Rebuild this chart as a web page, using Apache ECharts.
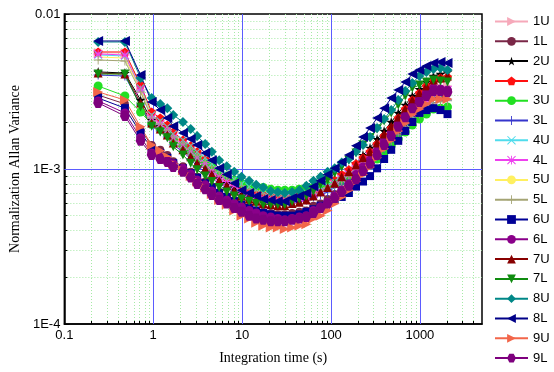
<!DOCTYPE html>
<html>
<head>
<meta charset="utf-8">
<script src="https://cdn.jsdelivr.net/npm/echarts@6/dist/echarts.min.js"></script>
<style>
html,body{margin:0;padding:0;background:#fff;}
#chart{width:554px;height:372px;}
</style>
</head>
<body>
<div id="chart"></div>
<script>
// Integration time (s)
const tau = [0.24,0.48,0.72,0.96,1.2,1.44,1.68,2.16,2.64,3.12,3.84,4.56,5.52,6.72,8.16,9.84,12,14.4,17.3,21,25.2,30.2,36.5,44,52.8,63.4,76.3,91.7,110,132,159,191,229,275,330,396,476,571,685,822,987,1184,1421,1705,2046];

// Normalized Allan variance, in units of 1e-5
const UNIT = 1e-5;
const v1U = [561,561,338,223,204,184,163,147,133,121,111,100,92,85,79,73,70,67,65,64,63,63,64,65,66,69,73,77,83,88,94,103,112,123,139,154,173,192,216,240,267,296,323,338,343];
const v1L = [300,263,178,143,133,123,112,104,96,89,83,77,71,67,63,59,57,54,53,52,51,51,52,53,54,58,60,64,69,74,81,90,99,109,123,137,154,173,192,216,240,267,292,300,309];
const v2U = [423,416,279,207,189,173,154,139,125,114,104,96,88,81,76,70,67,65,62,61,60,60,62,63,65,69,73,78,84,92,99,109,123,137,156,176,201,230,259,296,328,364,398,410,423];
const v2L = [569,569,348,233,213,192,173,154,141,129,116,104,96,89,83,77,73,70,68,67,66,65,66,67,68,71,76,79,85,92,99,108,118,129,145,163,184,213,244,279,309,343,375,387,392];
const v3U = [343,296,233,195,181,168,154,141,129,118,109,104,96,90,85,81,79,77,76,74,73,73,73,74,74,76,77,78,80,84,88,93,99,106,116,129,141,156,173,192,210,226,244,247,251];
const v3L = [404,398,259,192,176,161,143,129,116,104,96,88,80,76,71,68,66,64,62,61,60,60,61,62,63,66,68,71,76,80,85,93,100,109,121,135,150,166,187,207,226,247,267,275,279];
const v4U = [544,536,333,223,204,187,168,154,141,129,118,108,99,92,86,80,77,74,71,70,69,68,69,69,70,72,76,78,83,86,92,100,108,118,131,145,161,178,198,220,240,263,287,292,296];
const v4L = [552,544,323,213,195,178,159,143,129,118,108,97,89,83,78,72,70,67,65,64,63,63,64,65,66,69,72,76,80,86,92,100,109,120,133,150,166,184,207,230,251,279,305,319,323];
const v5U = [528,520,323,220,201,184,166,152,139,127,116,108,99,92,86,80,78,74,72,71,70,69,70,70,71,73,77,79,84,88,93,100,108,118,131,143,159,176,192,213,233,255,279,283,287];
const v5L = [505,498,314,213,195,178,161,147,135,123,112,104,96,89,84,78,74,72,69,68,67,66,67,67,68,70,73,76,80,84,89,96,104,112,125,137,152,168,187,207,226,244,267,271,275];
const v6U = [287,247,171,137,127,118,109,101,94,88,81,76,70,66,62,59,56,54,52,51,50,50,50,51,53,55,58,60,63,66,70,77,83,90,101,116,133,152,176,201,230,240,247,240,226];
const v6L = [275,230,159,127,120,114,108,101,93,85,79,72,67,63,60,57,54,52,50,49,48,47,48,49,50,54,57,61,67,73,80,92,103,114,131,152,173,198,226,259,283,309,333,328,323];
const v7U = [416,410,267,198,181,166,147,133,120,109,100,92,84,78,72,67,64,62,60,59,58,58,60,61,63,67,71,76,81,89,96,106,118,129,147,168,189,216,244,279,309,343,375,387,398];
const v7L = [410,410,251,189,173,159,139,123,109,99,90,83,76,71,67,64,62,60,59,59,59,59,62,64,67,72,79,85,94,103,114,127,143,159,181,204,230,259,296,333,348,364,375,370,364];
const v8U = [660,660,387,287,263,247,223,201,181,163,145,129,114,104,96,89,84,79,76,72,71,70,71,73,78,84,89,96,101,110,116,129,143,161,184,210,240,279,319,359,398,423,442,449,435];
const v8L = [670,670,404,271,240,213,189,171,156,143,127,114,101,92,81,73,70,67,64,63,62,62,65,67,70,77,84,92,101,111,123,141,161,184,213,247,287,323,364,410,435,462,483,490,483];
const v9U = [314,279,187,143,131,120,108,98,90,83,76,69,63,59,54,50,48,45,43,42,42,41,42,43,44,48,50,54,60,66,73,83,92,103,118,135,154,176,198,226,244,263,283,283,283];
const v9L = [267,220,152,123,116,111,103,96,88,80,74,68,63,60,56,53,50,48,47,46,46,46,47,48,49,52,56,60,65,71,78,86,97,108,123,143,163,187,216,247,271,296,319,319,314];

const seriesNames = ['1U','1L','2U','2L','3U','3L','4U','4L','5U','5L','6U','6L','7U','7L','8U','8L','9U','9L'];
const seriesValues = [v1U,v1L,v2U,v2L,v3U,v3L,v4U,v4L,v5U,v5L,v6U,v6L,v7U,v7L,v8U,v8L,v9U,v9L];

const xTickLabels = ['0.1','1','10','100','1000'];   // decades 1e-1 .. 1e3
const yTickLabels = ['1E-4','1E-3','0.01'];          // decades 1e-4 .. 1e-2
// grid line positions
const xMajor = [1, 10, 100, 1000];
const yMajor = [1e-3];
const xMinorTicks = [0.2,0.3,0.4,0.5,0.6,0.7,0.8,0.9,2,3,4,5,6,7,8,9,20,30,40,50,60,70,80,90,200,300,400,500,600,700,800,900,2000,3000,4000];
const Y_MIN = 1e-4, Y_MAX = 1e-2, X_MIN = 0.1, X_MAX = 5000;

// marker shapes
const TRI_R = 'path://M0,0 L100,50 L0,100 Z';
const TRI_L = 'path://M100,0 L0,50 L100,100 Z';
const TRI_D = 'path://M0,0 L100,0 L50,100 Z';
const STAR = 'path://M50,0 L61,35 L98,35 L68,57 L79,91 L50,70 L21,91 L32,57 L2,35 L39,35 Z';
const PENT = 'path://M50,0 L98,35 L79,91 L21,91 L2,35 Z';
const HEX = 'path://M25,0 L75,0 L100,50 L75,100 L25,100 L0,50 Z';
const PLUS = 'path://M45,0 L55,0 L55,45 L100,45 L100,55 L55,55 L55,100 L45,100 L45,55 L0,55 L0,45 L45,45 Z';
const CROSS = 'path://M8,0 L50,42 L92,0 L100,8 L58,50 L100,92 L92,100 L50,58 L8,100 L0,92 L42,50 L0,8 Z';
const ASTER = 'path://M45,0 L55,0 L55,45 L100,45 L100,55 L55,55 L55,100 L45,100 L45,55 L0,55 L0,45 L45,45 Z M8,0 L50,42 L92,0 L100,8 L58,50 L100,92 L92,100 L50,58 L8,100 L0,92 L42,50 L0,8 Z';

const styles = {
  '1U': {color:'#f6a9ba', symbol:TRI_R, size:9},
  '1L': {color:'#7a2747', symbol:'circle', size:8},
  '2U': {color:'#000000', symbol:STAR, size:10},
  '2L': {color:'#ff1010', symbol:PENT, size:9},
  '3U': {color:'#22e022', symbol:'circle', size:9},
  '3L': {color:'#3535cc', symbol:PLUS, size:9},
  '4U': {color:'#4fdcec', symbol:CROSS, size:8},
  '4L': {color:'#ee40ee', symbol:ASTER, size:9},
  '5U': {color:'#fff060', symbol:'none', size:0},
  '5L': {color:'#a4a474', symbol:PLUS, size:9},
  '6U': {color:'#000096', symbol:'rect', size:8},
  '6L': {color:'#8a008a', symbol:'circle', size:9},
  '7U': {color:'#880000', symbol:'triangle', size:9},
  '7L': {color:'#108c10', symbol:TRI_D, size:9},
  '8U': {color:'#008787', symbol:'diamond', size:10},
  '8L': {color:'#000088', symbol:TRI_L, size:10},
  '9U': {color:'#f2664a', symbol:TRI_R, size:10},
  '9L': {color:'#7e007e', symbol:HEX, size:10}
};

const series = seriesNames.map((name, i) => {
  const st = styles[name];
  return {
    name: name,
    type: 'line',
    data: tau.map((t, k) => [t, seriesValues[i][k] * UNIT]),
    symbol: st.symbol,
    symbolSize: st.size,
    showSymbol: st.symbol !== 'none',
    lineStyle: {color: st.color, width: 1},
    itemStyle: {color: st.color, borderWidth: 0},
    color: st.color,
    emphasis: {disabled: true},
    animation: false,
    z: 3
  };
});

const GRID_BLUE = '#5b5bff';
const GRID_GREEN = '#a6eaa6';

// x-axis minor grid lines + minor ticks, placed through the axis scale
series.unshift({
  name: 'xminor', type: 'custom', silent: true, z: 1, clip: false,
  data: xMinorTicks.map(v => [v, 1e-3]),
  encode: {x: 0, y: 1},
  renderItem: (params, api) => {
    const x = api.value(0);
    const pTop = api.coord([x, Y_MAX]);
    const pBot = api.coord([x, Y_MIN]);
    const px = Math.round(pTop[0]) + 0.5;
    return {
      type: 'group',
      children: [
        {type: 'line', shape: {x1: px, y1: pTop[1], x2: px, y2: pBot[1]},
         style: {stroke: GRID_GREEN, lineDash: [1, 2], lineWidth: 1}},
        {type: 'line', shape: {x1: px, y1: pBot[1], x2: px, y2: pBot[1] - 3},
         style: {stroke: '#000', lineWidth: 1}}
      ]
    };
  }
});
// major vertical grid lines
series.unshift({
  name: 'xmajor', type: 'custom', silent: true, z: 2, clip: false,
  data: xMajor.map(v => [v, 1e-3]),
  encode: {x: 0, y: 1},
  renderItem: (params, api) => {
    const x = api.value(0);
    const pTop = api.coord([x, Y_MAX]);
    const pBot = api.coord([x, Y_MIN]);
    const px = Math.round(pTop[0]) + 0.5;
    return {type: 'line', shape: {x1: px, y1: pTop[1], x2: px, y2: pBot[1]},
            style: {stroke: GRID_BLUE, lineWidth: 1}};
  }
});
// major horizontal grid lines
series.unshift({
  name: 'ymajor', type: 'custom', silent: true, z: 2, clip: false,
  data: yMajor.map(v => [1, v]),
  encode: {x: 0, y: 1},
  renderItem: (params, api) => {
    const y = api.value(1);
    const pL = api.coord([X_MIN, y]);
    const pR = api.coord([X_MAX, y]);
    const py = Math.round(pL[1]) + 0.5;
    return {type: 'line', shape: {x1: pL[0], y1: py, x2: pR[0], y2: py},
            style: {stroke: GRID_BLUE, lineWidth: 1}};
  }
});

const decade = v => Math.round(Math.log10(v));

const chart = echarts.init(document.getElementById('chart'), null, {renderer: 'canvas'});
chart.setOption({
  animation: false,
  backgroundColor: '#ffffff',
  grid: {left: 58, top: 14, right: 72, bottom: 48, show: true, borderColor: '#000', borderWidth: 1.5, backgroundColor: 'transparent'},
  legend: {
    orient: 'vertical', left: 489, top: 10,
    itemWidth: 33, itemHeight: 11, itemGap: 6.8,
    data: seriesNames,
    textStyle: {fontFamily: 'Liberation Sans, Arial, sans-serif', fontSize: 13, color: '#000'}
  },
  xAxis: {
    type: 'log', logBase: 10, min: X_MIN, max: X_MAX,
    name: 'Integration time (s)', nameLocation: 'middle', nameGap: 27,
    nameTextStyle: {fontFamily: 'Liberation Serif, Times New Roman, serif', fontSize: 14, color: '#000'},
    axisLine: {show: true, onZero: false, lineStyle: {color: '#000', width: 1.5}},
    axisTick: {show: true, inside: true, length: 5, lineStyle: {color: '#000'}},
    minorTick: {show: false},
    axisLabel: {
      margin: 5, showMaxLabel: false, color: '#000',
      fontFamily: 'Liberation Sans, Arial, sans-serif', fontSize: 13,
      formatter: v => xTickLabels[decade(v) + 1] || ''
    },
    splitLine: {show: false},
    minorSplitLine: {show: false}
  },
  yAxis: {
    type: 'log', logBase: 10, min: Y_MIN, max: Y_MAX,
    name: 'Normalization Allan Variance', nameLocation: 'middle', nameGap: 38, nameRotate: 90,
    nameTextStyle: {fontFamily: 'Liberation Serif, Times New Roman, serif', fontSize: 14, color: '#000'},
    axisLine: {show: true, onZero: false, lineStyle: {color: '#000', width: 1.5}},
    axisTick: {show: true, inside: true, length: 5, lineStyle: {color: '#000'}},
    minorTick: {show: true, splitNumber: 9, length: 3, lineStyle: {color: '#000'}},
    axisLabel: {
      margin: 4, color: '#000',
      fontFamily: 'Liberation Sans, Arial, sans-serif', fontSize: 13,
      formatter: v => yTickLabels[decade(v) + 4] || ''
    },
    splitLine: {show: false},
    minorSplitLine: {show: true, lineStyle: {color: GRID_GREEN, type: [1, 2], width: 1}}
  },
  series: series
});
</script>
</body>
</html>
